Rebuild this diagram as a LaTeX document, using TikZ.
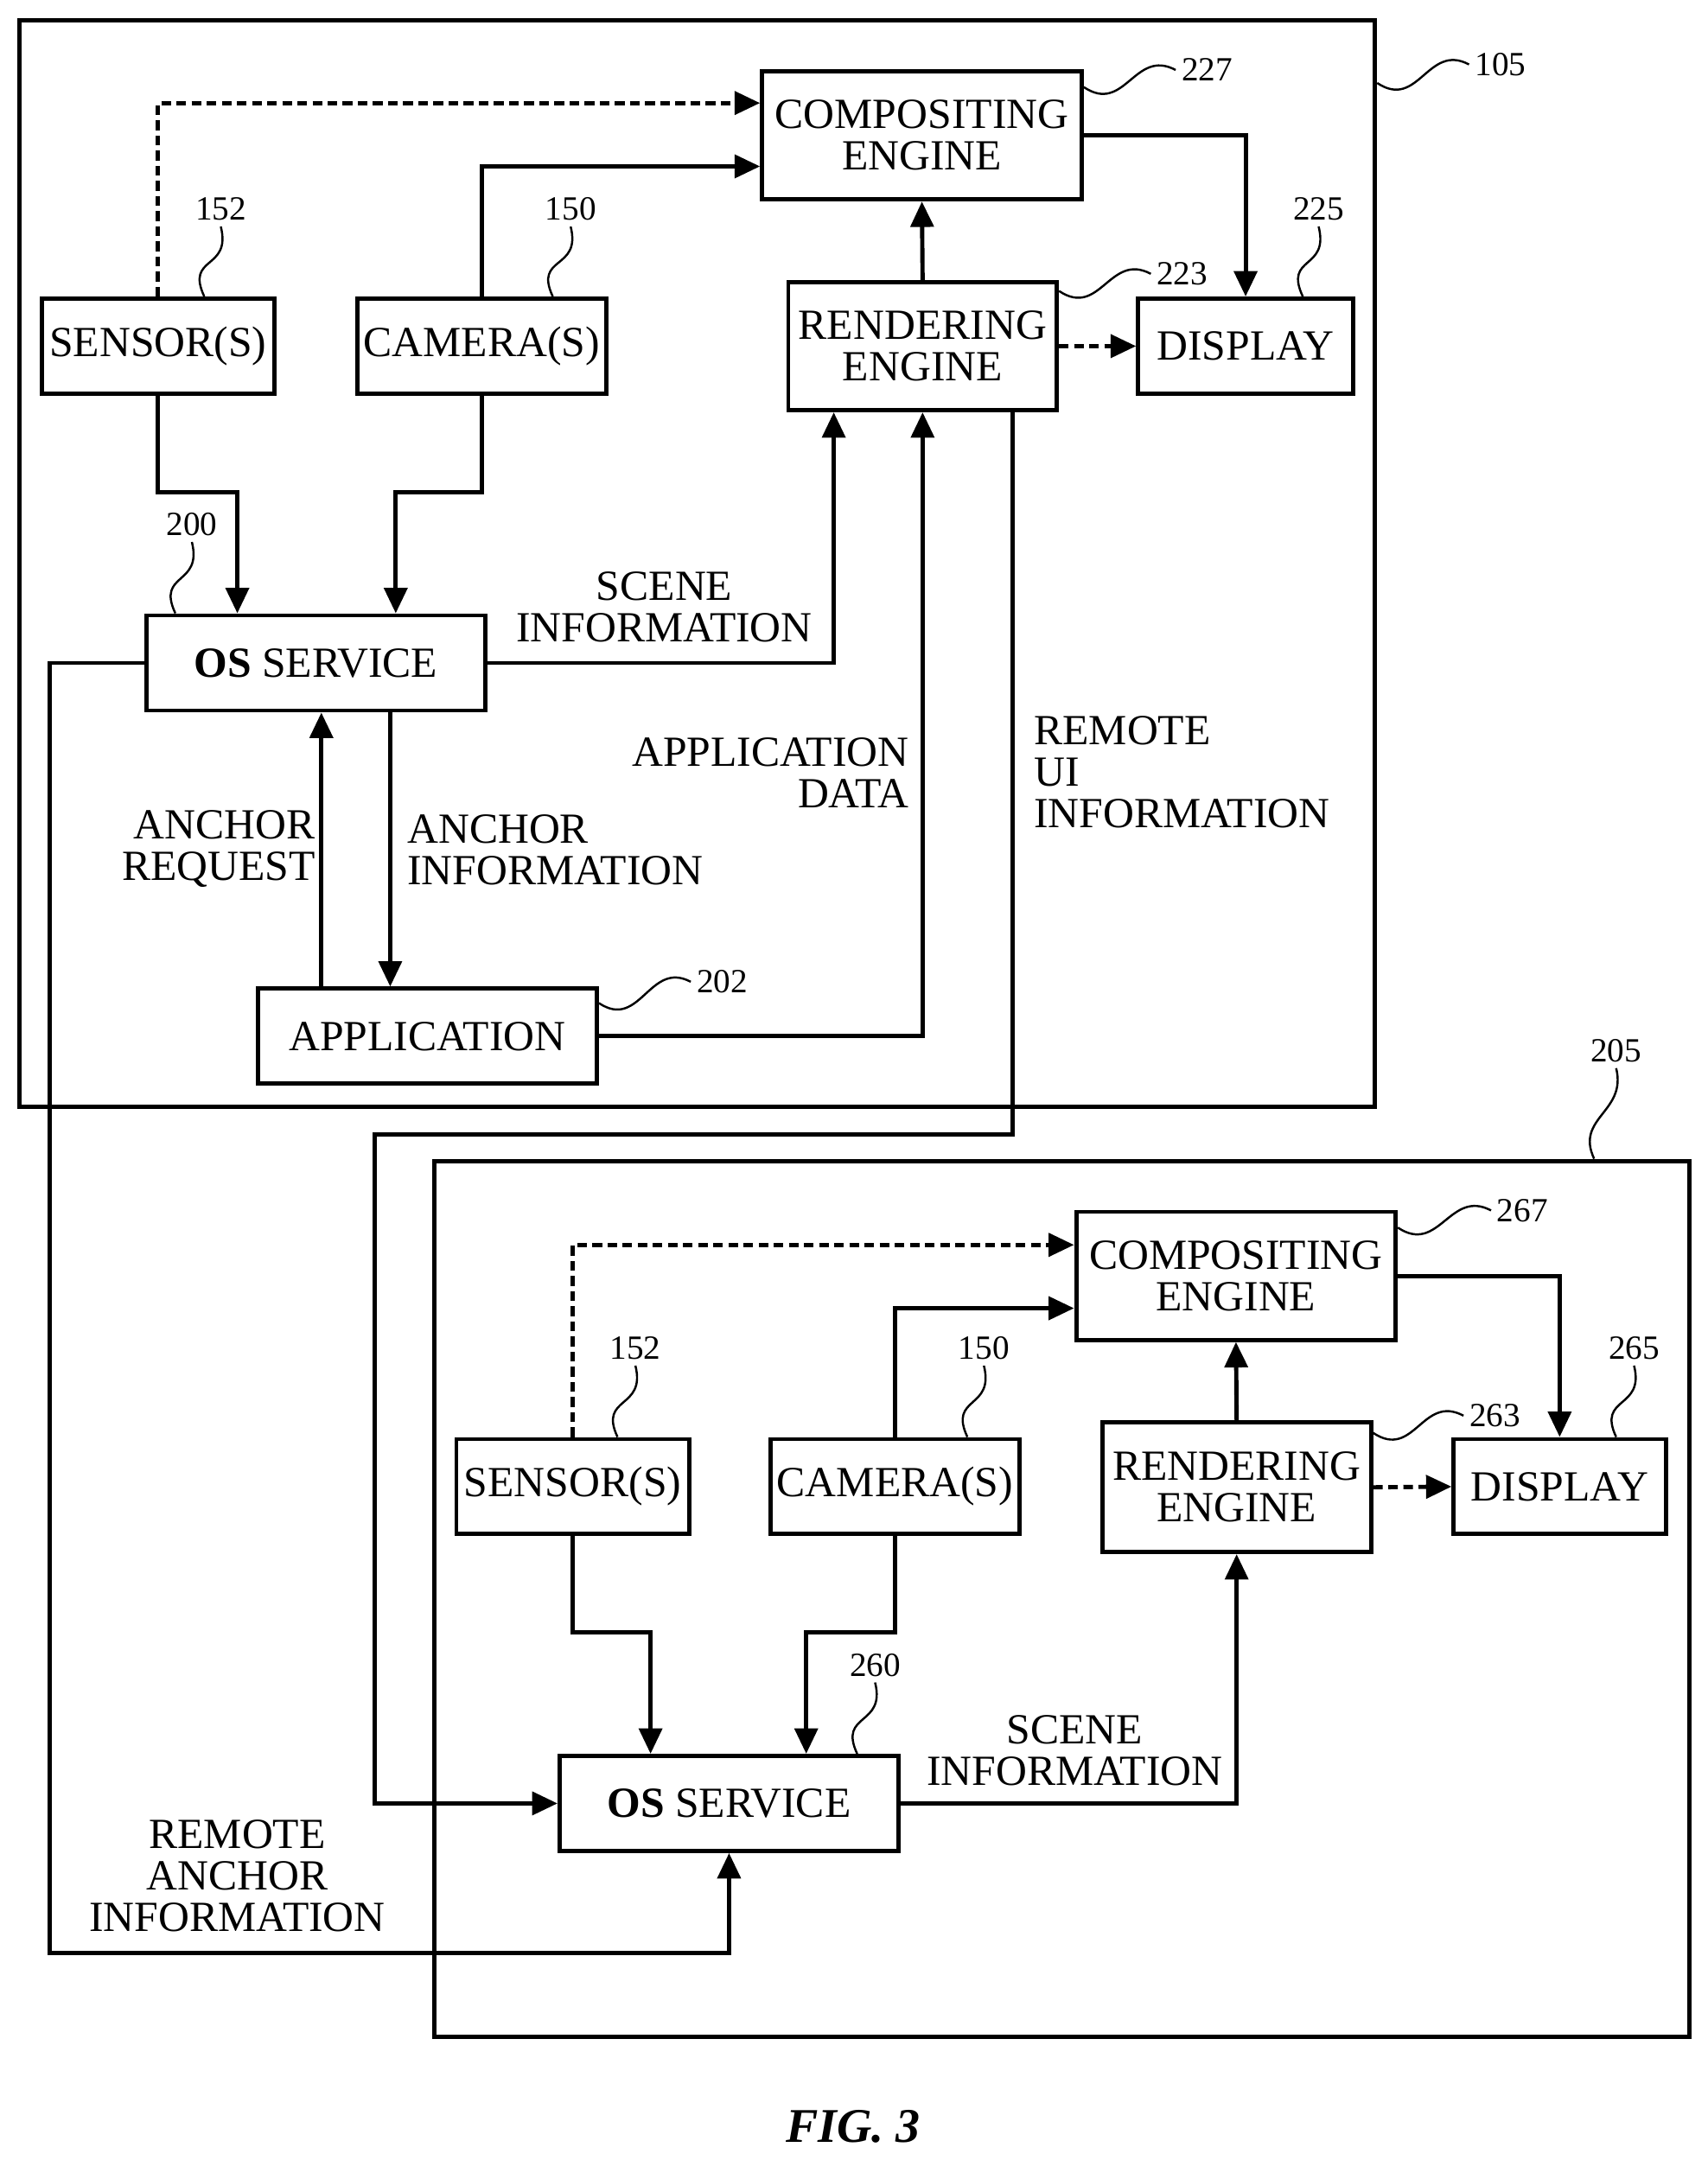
\documentclass[tikz,border=0pt]{standalone}
\usepackage{fontspec}
\setmainfont{Liberation Serif}
\usetikzlibrary{arrows.meta,calc}

\tikzset{
  blk/.style 2 args={draw,line width=1.4pt,minimum width=#1*0.016cm,minimum height=#2*0.016cm,
    inner sep=0pt,align=center,font=\fontsize{14.2}{13.7}\selectfont},
  lbl/.style={inner sep=0pt,font=\fontsize{14.2}{13.7}\selectfont},
  refnum/.style={inner sep=1pt,outer sep=1pt,font=\fontsize{11.2}{12}\selectfont},
  leader/.style={line width=0.7pt},
  arr/.style={line width=1.4pt,-{Triangle[length=8.4pt,width=7.6pt]}},
  dasharr/.style={arr,dash pattern=on 3.2pt off 1.8pt},
  wire/.style={line width=1.4pt}
}

\begin{document}
\begin{tikzpicture}[x=0.016cm,y=-0.016cm]
\useasboundingbox (-0.3,-0.8) rectangle (1239.7,1567.4);

% first device
\node[blk={984}{789}] (deviceA) at (506,408.5) {};
\node[blk={232}{93}] (compA) at (669,97.5) {COMPOSITING\\ENGINE};
\node[blk={169}{69}] (senA) at (114.5,250.5) {SENSOR(S)};
\node[blk={181}{69}] (camA) at (349.5,250.5) {CAMERA(S)};
\node[blk={195}{93}] (renA) at (669.5,250.5) {RENDERING\\ENGINE};
\node[blk={156}{69}] (dispA) at (904,250.5) {DISPLAY};
\node[blk={246}{69}] (osA) at (229,480.5) {\textbf{OS} SERVICE};
\node[blk={246}{69}] (appA) at (310,751.5) {APPLICATION};

% second device
\node[blk={911}{636}] (deviceB) at (770.5,1160) {};
\node[blk={232}{93}] (compB) at (897,925.5) {COMPOSITING\\ENGINE};
\node[blk={169}{69}] (senB) at (415.5,1078.5) {SENSOR(S)};
\node[blk={181}{69}] (camB) at (649.5,1078.5) {CAMERA(S)};
\node[blk={195}{94}] (renB) at (897.5,1079) {RENDERING\\ENGINE};
\node[blk={154}{69}] (dispB) at (1132,1078.5) {DISPLAY};
\node[blk={246}{69}] (osB) at (529,1308.5) {\textbf{OS} SERVICE};

% connections inside first device
\draw[dasharr] (senA.north) |- ($(compA.west)+(0,-23.5)$);
\draw[arr] (camA.north) |- ($(compA.west)+(0,22.5)$);
\draw[arr] (compA.east) -| (dispA.north);
\draw[arr] (renA.north) -- (compA.south);
\draw[dasharr] (renA.east) -- (dispA.west);
\draw[arr] (senA.south) -- ++(0,70) -| ($(osA.north)+(-57,0)$);
\draw[arr] (camA.south) -- ++(0,70) -| ($(osA.north)+(58,0)$);
\draw[arr] (osA.east) -| ($(renA.south)+(-64.5,0)$);
\draw[arr] (appA.east) -| (renA.south);
\draw[arr] ($(appA.north)+(-77,0)$) -- ($(osA.south)+(4,0)$);
\draw[arr] ($(osA.south)+(54,0)$) -- ($(appA.north)+(-27,0)$);

% connections inside second device
\draw[dasharr] (senB.north) |- ($(compB.west)+(0,-22.5)$);
\draw[arr] (camB.north) |- ($(compB.west)+(0,23.5)$);
\draw[arr] (compB.east) -| (dispB.north);
\draw[arr] (renB.north) -- (compB.south);
\draw[dasharr] (renB.east) -- (dispB.west);
\draw[arr] (senB.south) -- ++(0,70) -| ($(osB.north)+(-57,0)$);
\draw[arr] (camB.south) -- ++(0,70) -| ($(osB.north)+(56,0)$);
\draw[arr] (osB.east) -| (renB.south);

% between the devices
\coordinate (uiDown) at (735,823);
\coordinate (uiLeft) at (272,823);
\coordinate (anchorLeft) at (36,1417);
\draw[arr] ($(renA.south)+(65.5,0)$) -- (uiDown) -- (uiLeft) |- (osB.west);
\draw[arr] (osA.west) -| (anchorLeft) -| (osB.south);

% labels
\node[lbl,align=center] (lblSceneA) at (482,440) {SCENE\\INFORMATION};
\node[lbl,align=right,anchor=east] (lblAppData) at (660,560) {APPLICATION\\DATA};
\node[lbl,align=left,anchor=west] (lblRemoteUi) at (750,560) {REMOTE\\UI\\INFORMATION};
\node[lbl,align=right,anchor=east] (lblRequest) at (229,615.5) {ANCHOR\\REQUEST};
\node[lbl,align=left,anchor=west] (lblInfo) at (295,616.5) {ANCHOR\\INFORMATION};
\node[lbl,align=center] (lblSceneB) at (780,1270) {SCENE\\INFORMATION};
\node[lbl,align=center] (lblRemoteAnchor) at (172,1361) {REMOTE\\ANCHOR\\INFORMATION};
\node[inner sep=0pt,font=\fontsize{16}{18}\selectfont\bfseries\itshape] (figLabel) at (619,1543) {FIG. 3};

% reference numbers
\foreach \nm/\txt/\xx/\yy in {numSenA/152/160/151,numCamA/150/414/151,numDispA/225/957/151,numOsA/200/139/380,
  numCompA/227/876/50,numRenA/223/858/198,numAppA/202/524/712,numDevA/105/1089/46,
  numSenB/152/461/978,numCamB/150/714/978,numDispB/265/1186/978,numOsB/260/635/1208,numDevB/205/1173/762,
  numCompB/267/1105/878,numRenB/263/1085/1027}
  \node[refnum] (\nm) at (\xx,\yy) {\txt};

% wavy leaders going up
\foreach \bx/\dx/\nm in {senA/33.5/numSenA,camA/51.5/numCamA,dispA/41.5/numDispA,osA/-102/numOsA,
  senB/32.5/numSenB,camB/52.5/numCamB,dispB/41/numDispB,osB/93/numOsB,deviceB/386.5/numDevB}
  \draw[leader] ($(\bx.north)+(\dx,0)$) .. controls +(-14,-30) and +(8,32) .. (\nm.south);

% wavy leaders going right
\foreach \bx/\dy/\nm in {compA/13/numCompA,renA/8/numRenA,appA/12/numAppA,deviceA/47/numDevA,
  compB/13/numCompB,renB/9/numRenB}
  \draw[leader] ($(\bx.north east)+(0,\dy)$) .. controls +(30,20) and +(-30,-16) .. (\nm.west);
\end{tikzpicture}
\end{document}
